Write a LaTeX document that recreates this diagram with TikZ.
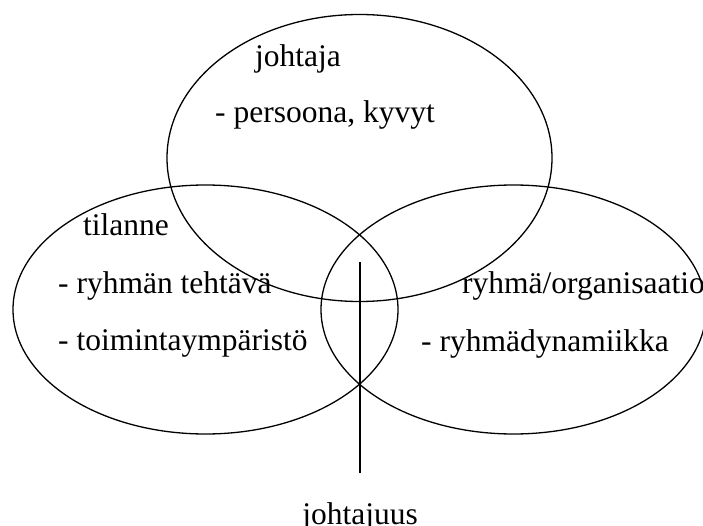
\documentclass[tikz,border=0pt]{standalone}
\usepackage{fontspec}
\setmainfont{Liberation Serif}
\usetikzlibrary{shapes.geometric}
\begin{document}
\begin{tikzpicture}[x=1pt,y=-1pt,
  venn/.style={draw=black,line width=1.3pt,ellipse,inner sep=0pt,minimum width=385pt},
  lbl/.style={anchor=base west,inner sep=0pt,font=\fontsize{31.5}{36}\selectfont},
  stem/.style={line width=2pt}]
\useasboundingbox (0,0) rectangle (703,526);
\clip (0,0) rectangle (703,526);
\node[venn,minimum height=287pt] (top) at (359.5,158) {};
\node[venn,minimum height=249pt] (left) at (205.5,309.5) {};
\node[venn,minimum height=249pt] (right) at (513.5,309.5) {};
\node[lbl] (t1) at (255,67) {johtaja};
\node[lbl] (t2) at (215,123) {- persoona, kyvyt};
\node[lbl] (l1) at (83,236) {tilanne};
\node[lbl] (l2) at (58,294) {- ryhmän tehtävä};
\node[lbl] (l3) at (58,350) {- toimintaympäristö};
\node[lbl] (r1) at (462,294) {ryhmä/organisaatio};
\node[lbl] (r2) at (421,351) {- ryhmädynamiikka};
\coordinate (s1) at (360,262);
\coordinate (s2) at (360,473);
\draw[stem] (s1) -- (s2);
\node[lbl,anchor=base] (j) at (360,524) {johtajuus};
\end{tikzpicture}
\end{document}
